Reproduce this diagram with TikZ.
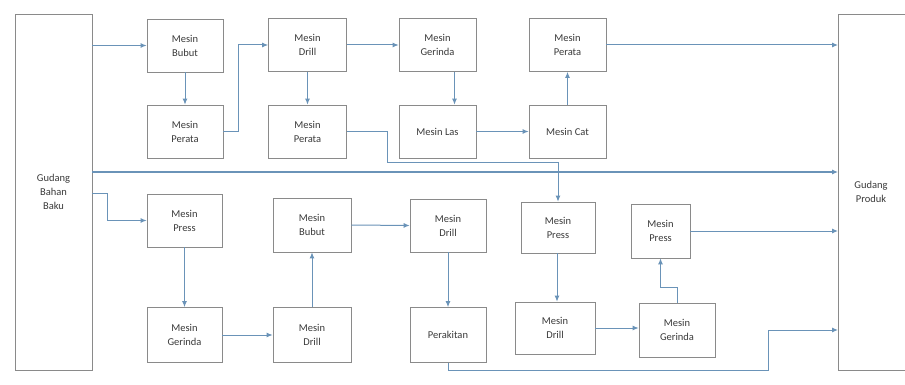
\documentclass[tikz,border=0pt]{standalone}
\usepackage{fontspec}
\setmainfont{Carlito}
\usetikzlibrary{arrows.meta,calc}
\definecolor{conn}{HTML}{6A93B8}
\definecolor{edge}{HTML}{8A8A8A}
\definecolor{txt}{HTML}{3A3A3A}
\begin{document}
\begin{tikzpicture}[x=1pt,y=-1pt,
  box/.style={draw=edge, line width=0.7pt, rectangle, inner sep=0pt,
    minimum width=76pt, minimum height=53pt, align=center,
    font=\fontsize{10.5}{14}\selectfont, text=txt},
  arr/.style={draw=conn, line width=1pt, -{Latex[length=6pt,width=5pt]}},
  ln/.style={draw=conn, line width=1pt}]
\useasboundingbox[fill=white] (0,0) rectangle (905,385);
% warehouses
\node[box, minimum width=77pt, minimum height=356pt] (gbb) at (53.5,192) {Gudang\\Bahan\\Baku};
\draw[draw=edge, line width=0.7pt] (910,14) -- (838,14) -- (838,370) -- (910,370);
\coordinate (gpw) at (838,192);
\node[font=\fontsize{10.5}{14}\selectfont, text=txt, align=center] (gp) at (871,192) {Gudang\\Produk};
% top rows
\node[box] (bubut1) at (185,45.5) {Mesin\\Bubut};
\node[box] (perata1) at (185,131.5) {Mesin\\Perata};
\node[box, minimum width=78pt] (drill1) at (307.5,45) {Mesin\\Drill};
\node[box, minimum width=78pt] (perata2) at (307.5,131.5) {Mesin\\Perata};
\node[box, minimum width=77pt] (gerinda1) at (437.5,45) {Mesin\\Gerinda};
\node[box, minimum width=77pt] (las) at (437.5,131.5) {Mesin Las};
\node[box, minimum width=77pt] (perata3) at (567.5,45) {Mesin\\Perata};
\node[box, minimum width=77pt] (cat) at (567.5,131.5) {Mesin Cat};
% bottom rows
\node[box, minimum width=75pt] (press1) at (184.5,220.5) {Mesin\\Press};
\node[box, minimum width=75pt, minimum height=55pt] (gerinda2) at (184.5,335) {Mesin\\Gerinda};
\node[box, minimum width=78pt, minimum height=55pt] (drill2) at (312,335) {Mesin\\Drill};
\node[box, minimum width=78pt, minimum height=54pt] (bubut2) at (312,225) {Mesin\\Bubut};
\node[box, minimum width=76pt] (drill3) at (448,225.5) {Mesin\\Drill};
\node[box, minimum width=76pt, minimum height=55pt] (perakitan) at (448,335) {Perakitan};
\node[box, minimum width=74pt, minimum height=51pt] (press2) at (558,227.5) {Mesin\\Press};
\node[box, minimum width=80pt, minimum height=52pt] (drill4) at (555,328) {Mesin\\Drill};
\node[box, minimum width=76pt, minimum height=54pt] (gerinda3) at (677,330) {Mesin\\Gerinda};
\node[box, minimum width=59pt, minimum height=54pt] (press3) at (660.5,231) {Mesin\\Press};
% top connectors
\draw[arr] (gbb.east |- bubut1) -- (bubut1.west);
\draw[arr] (bubut1.south) -- (perata1.north);
\draw[arr] (perata1.east) -- ++(15,0) |- (drill1.west);
\draw[arr] (drill1.east) -- (gerinda1.west);
\draw[arr] (drill1.south) -- (perata2.north);
\draw[arr] ([xshift=17pt]gerinda1.south) -- ([xshift=17pt]las.north);
\draw[arr] (las.east) -- (cat.west);
\draw[arr] (cat.north) -- (perata3.south);
\draw[arr] (perata3.east) -- (perata3.east -| gpw);
\draw[arr] (perata2.east) -- (387,131.5) -- (387,163) -- (558,163) -- (press2.north);
\draw[arr] (gbb.east |- 0,172) -- (gpw |- 0,172);
% bottom connectors
\draw[arr] (gbb.east |- 0,193) -- (107,193) |- (press1.west);
\draw[arr] (press1.south) -- (gerinda2.north);
\draw[arr] (gerinda2.east) -- (drill2.west);
\draw[arr] (drill2.north) -- (bubut2.south);
\draw[arr] (bubut2.east) -- (drill3.west);
\draw[arr] (drill3.south) -- (perakitan.north);
\draw[arr] (perakitan.south) -- (448,370) -- (768,370) |- (gpw |- 0,330);
\draw[arr] ([xshift=-1pt]press2.south) -- (drill4.north -| 557,0);
\draw[arr] (drill4.east) -- (gerinda3.west |- drill4.east);
\draw[arr] (gerinda3.north) -- ++(0,-15) -| (press3.south);
\draw[arr] (press3.east) -- (press3.east -| gpw);
\end{tikzpicture}
\end{document}
